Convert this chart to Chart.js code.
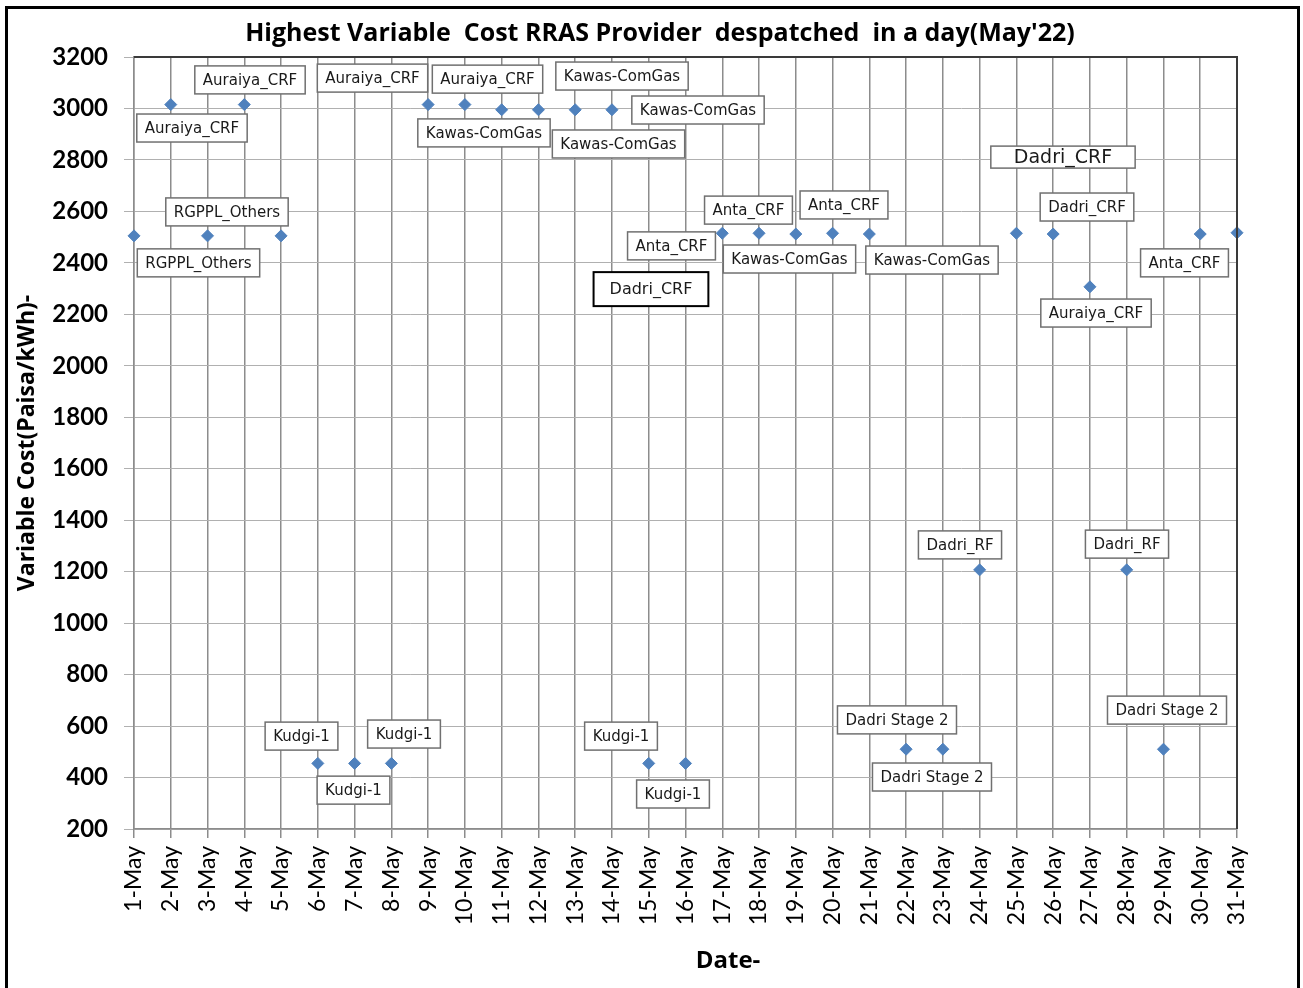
<!DOCTYPE html>
<html>
<head>
<meta charset="utf-8">
<title>Highest Variable Cost RRAS Provider despatched in a day (May'22)</title>
<script src="https://cdn.jsdelivr.net/npm/chart.js@4.4.1/dist/chart.umd.min.js"></script>
<style>
  html, body { margin: 0; padding: 0; background: #fff; }
  #wrap { position: relative; width: 1303px; height: 988px; overflow: hidden; }
  #frame { position: absolute; left: 5px; top: 6px; width: 1289px; height: 1000px; border: 3px solid #000; pointer-events: none; }
  canvas { position: absolute; left: 0; top: 0; }
</style>
</head>
<body>
<div id="wrap">
  <canvas id="chart"></canvas>
  <div id="frame"></div>
</div>
<script>
// Fechas (eje X)
const days = ['1-May','2-May','3-May','4-May','5-May','6-May','7-May','8-May','9-May','10-May',
  '11-May','12-May','13-May','14-May','15-May','16-May','17-May','18-May','19-May','20-May',
  '21-May','22-May','23-May','24-May','25-May','26-May','27-May','28-May','29-May','30-May','31-May'];

// Coste variable más alto (Paisa/kWh)
const costs = [2505, 3015, 2505, 3015, 2505, 455, 455, 455, 3015, 3015,
  2995, 2995, 2995, 2995, 455, 455, 2515, 2515, 2512, 2515,
  2512, 510, 510, 1207, 2515, 2512, 2307, 1207, 510, 2512, 2517];

// Etiquetas de proveedor (texto, posición en día y valor)
const labelText = ['RGPPL_Others','Auraiya_CRF','RGPPL_Others','Auraiya_CRF','Kudgi-1','Kudgi-1','Kudgi-1',
  'Auraiya_CRF','Auraiya_CRF','Kawas-ComGas','Kawas-ComGas','Kawas-ComGas','Kawas-ComGas','Anta_CRF',
  'Dadri_CRF','Anta_CRF','Kawas-ComGas','Anta_CRF','Kawas-ComGas','Dadri_CRF','Dadri_CRF','Auraiya_CRF',
  'Anta_CRF','Dadri Stage 2','Dadri Stage 2','Kudgi-1','Kudgi-1','Dadri_RF','Dadri_RF','Dadri Stage 2'];
const labelDay = [1.754, 1.577, 2.529, 3.155, 4.556, 5.970, 7.344, 6.487, 9.615, 9.519, 13.178, 13.273,
  15.340, 14.619, 14.061, 16.713, 17.828, 19.311, 21.704, 25.267, 25.920, 26.165, 28.572, 20.752,
  21.704, 13.246, 14.660, 22.466, 27.008, 28.096];
const labelValue = [2400, 2924, 2598, 3111, 561, 351, 569, 3118, 3114, 2905, 2862, 3126, 2994, 2466,
  2298, 2605, 2415, 2625, 2411, 2811, 2617, 2205, 2400, 624, 402, 561, 336, 1304, 1307, 662];

const chartTitle = "Highest Variable  Cost RRAS Provider  despatched  in a day(May'22)";

// Estilos especiales de algunas etiquetas
const labelLook = {
  14: { size: 16, padX: 16, height: 34, color: '#000', lineWidth: 2 },
  19: { size: 19, padX: 23, height: 22 }
};

// Plugin: cajas de texto con el proveedor, título y marco
const labelBoxes = {
  id: 'labelBoxes',
  afterDatasetsDraw(chart) {
    const { ctx, scales: { x, y } } = chart;
    ctx.save();
    labelText.forEach((txt, i) => {
      const look = labelLook[i] || {};
      const size = look.size || 15;
      const padX = look.padX || 8;
      const h = look.height || 28;
      ctx.font = size + 'px "DejaVu Sans"';
      const w = ctx.measureText(txt).width + padX * 2;
      const cx = x.getPixelForValue(labelDay[i]);
      const cy = y.getPixelForValue(labelValue[i]);
      ctx.fillStyle = '#fff';
      ctx.fillRect(cx - w / 2, cy - h / 2, w, h);
      ctx.lineWidth = look.lineWidth || 1.5;
      ctx.strokeStyle = look.color || '#707070';
      ctx.strokeRect(cx - w / 2, cy - h / 2, w, h);
      ctx.fillStyle = '#1a1a1a';
      ctx.textAlign = 'center';
      ctx.textBaseline = 'middle';
      ctx.fillText(txt, cx, cy + 1);
    });
    ctx.restore();
  },
  afterDraw(chart) {
    const { ctx, chartArea: a } = chart;
    ctx.save();
    // borde superior y derecho del área de trazado
    ctx.strokeStyle = '#3a3a3a';
    ctx.lineWidth = 2;
    ctx.beginPath();
    ctx.moveTo(a.left, a.top);
    ctx.lineTo(a.right, a.top);
    ctx.lineTo(a.right, a.bottom);
    ctx.stroke();
    ctx.fillStyle = '#000';
    ctx.textAlign = 'center';
    ctx.textBaseline = 'middle';
    // título del gráfico
    ctx.font = 'bold 25px "Open Sans"';
    ctx.fillText(chartTitle, 660, 34);
    // título del eje X
    ctx.font = 'bold 24px "Open Sans"';
    ctx.fillText('Date-', 728, 961);
    ctx.restore();
  }
};

const ctx = document.getElementById('chart').getContext('2d');
new Chart(ctx, {
  type: 'line',
  data: {
    labels: days,
    datasets: [{
      data: costs,
      showLine: false,
      pointStyle: 'rectRot',
      pointRadius: 6,
      pointHoverRadius: 6,
      pointBackgroundColor: '#4f81bd',
      pointBorderColor: '#4f81bd',
      pointBorderWidth: 1,
      clip: false
    }]
  },
  options: {
    responsive: true,
    maintainAspectRatio: false,
    animation: false,
    layout: { padding: { left: 0, right: 66, top: 57, bottom: 0 } },
    plugins: {
      legend: { display: false },
      tooltip: { enabled: false },
      title: { display: false }
    },
    scales: {
      x: {
        offset: false,
        grid: { color: '#8c8c8c', lineWidth: 1.5, tickLength: 9 },
        border: { color: '#8c8c8c', width: 1.5 },
        ticks: {
          autoSkip: false,
          minRotation: 90,
          maxRotation: 90,
          padding: 8,
          color: '#000',
          font: { family: 'Lato', size: 23 }
        },
        afterFit(scale) { scale.height = 159; }
      },
      y: {
        min: 200,
        max: 3200,
        ticks: {
          stepSize: 200,
          padding: 16,
          color: '#000',
          font: { family: 'Lato', size: 24, weight: 'bold' },
          callback: (v) => String(v)
        },
        grid: { color: '#b0b0b0', lineWidth: 1, borderDash: [2, 2], tickLength: 10, tickBorderDash: [] },
        border: { color: '#8c8c8c', width: 1.5 },
        title: {
          display: true,
          text: 'Variable Cost(Paisa/kWh)-',
          color: '#000',
          font: { family: 'Open Sans', size: 23, weight: 'bold' },
          padding: { top: 14, bottom: 0 }
        },
        afterFit(scale) { scale.width = 134; }
      }
    }
  },
  plugins: [labelBoxes]
});
</script>
</body>
</html>
